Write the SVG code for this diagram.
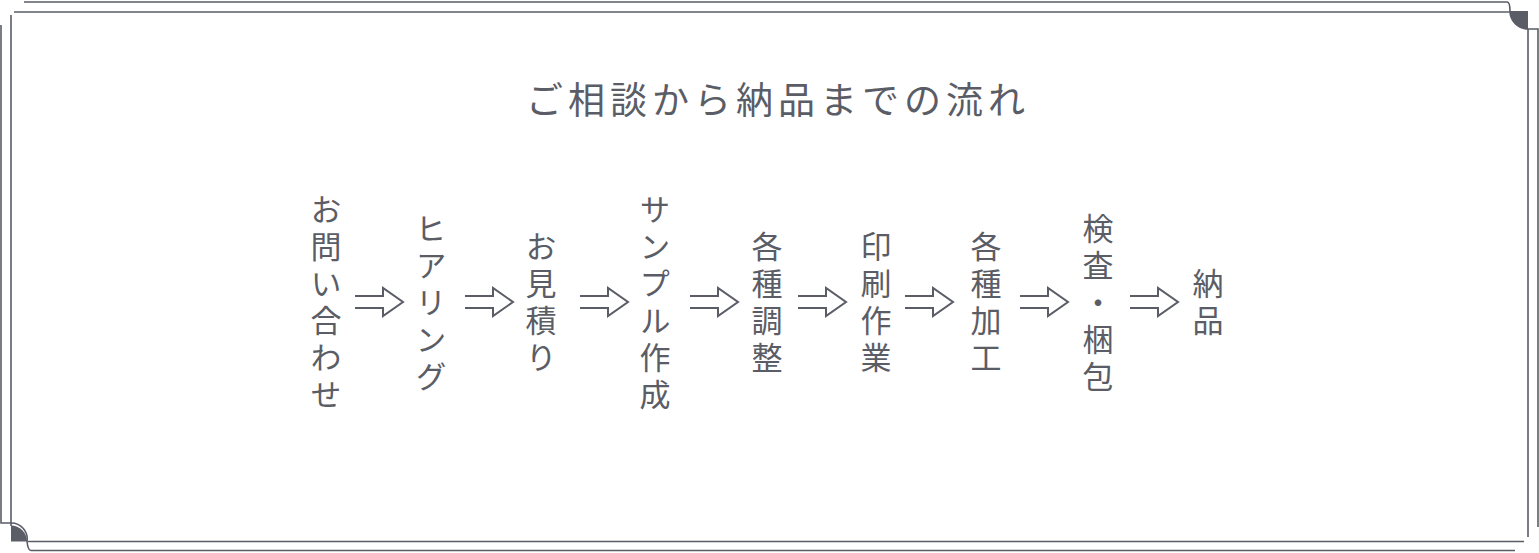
<svg xmlns="http://www.w3.org/2000/svg" width="1539" height="553" viewBox="0 0 1539 553">
<style>
.fr{fill:none;stroke:#5a5c66;stroke-width:1.6}
.fill{fill:#5a5c66}
.title{font-family:"Noto Sans CJK JP","Noto Sans CJK SC",sans-serif;font-size:37px;fill:#5b5d66;letter-spacing:5px;font-weight:400}
.v{font-family:"Noto Sans CJK JP","Noto Sans CJK SC",sans-serif;font-size:31px;fill:#5b5d66;writing-mode:vertical-rl;letter-spacing:6px;font-weight:400}
.arr{fill:none;stroke:#5a5c66;stroke-width:2;stroke-linejoin:miter}
</style>
<defs>
<path id="arrow" class="arr" d="M0,-6 H28 V-14 L48,0 L28,14 V6 H0"/>
</defs>
<rect width="1539" height="553" fill="#ffffff"/>
<g id="frame">
<path class="fr" d="M14,12 H1510"/>
<path class="fr" d="M11,15 V526"/>
<path class="fr" d="M1528,29 V537"/>
<path class="fr" d="M28,541.5 H1524"/>
<path class="fr" d="M24,2 H1507 Q1510,2 1510,11 A18,18 0 0 0 1528,29 H1538 V527"/>
<path class="fr" d="M1,25 V523 H11 A16,16 0 0 1 27,541.5 Q28,550.5 31,550.5 H1515"/>
<path class="fill" d="M1528,11 H1510 A18,18 0 0 0 1528,29 Z"/>
<path class="fill" d="M11,541.5 V525.5 A16,16 0 0 1 27,541.5 Z"/>
</g>
<g id="title">
<text class="title" x="778" y="114" text-anchor="middle">ご相談から納品までの流れ</text>
</g>
<g id="node-1"><text class="v" x="326" y="305" text-anchor="middle">お問い合わせ</text></g>
<g id="node-2"><text class="v" x="431" y="305" text-anchor="middle">ヒアリング</text></g>
<g id="node-3"><text class="v" x="541" y="305" text-anchor="middle">お見積り</text></g>
<g id="node-4"><text class="v" x="655" y="305" text-anchor="middle">サンプル作成</text></g>
<g id="node-5"><text class="v" x="767" y="305" text-anchor="middle">各種調整</text></g>
<g id="node-6"><text class="v" x="876" y="305" text-anchor="middle">印刷作業</text></g>
<g id="node-7"><text class="v" x="986" y="305" text-anchor="middle">各種加工</text></g>
<g id="node-8"><text class="v" x="1098" y="305" text-anchor="middle">検査・梱包</text></g>
<g id="node-9"><text class="v" x="1208" y="305" text-anchor="middle">納品</text></g>
<g id="connectors">
<use href="#arrow" x="355" y="302"/>
<use href="#arrow" x="465" y="302"/>
<use href="#arrow" x="580" y="302"/>
<use href="#arrow" x="690" y="302"/>
<use href="#arrow" x="798" y="302"/>
<use href="#arrow" x="905" y="302"/>
<use href="#arrow" x="1020" y="302"/>
<use href="#arrow" x="1130" y="302"/>
</g>
</svg>
